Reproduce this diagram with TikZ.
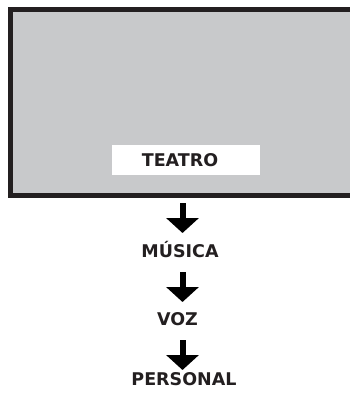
\documentclass[tikz,border=0pt]{standalone}
\usepackage{fontspec}
\setmainfont{DejaVu Sans}
\usetikzlibrary{arrows.meta}
\definecolor{scrgray}{RGB}{200,201,203}
\definecolor{inkdark}{RGB}{35,31,32}
\tikzset{
  lbl/.style={font=\fontsize{17.5}{17.5}\selectfont\bfseries, text=inkdark, inner sep=0pt, anchor=center},
  downarrow/.style={draw=black, line width=6pt, -{Triangle[width=32pt,length=15pt]}}
}
\begin{document}
\begin{tikzpicture}[x=1pt,y=-1pt]
\useasboundingbox (0,0) rectangle (350,393);
\clip (0,0) rectangle (350,393);
\draw[fill=scrgray, draw=inkdark, line width=5pt] (10.5,9.5) rectangle (370,195);
\fill[white] (112,145) rectangle (260,175);
\node[lbl] (teatro) at (180,160) {TEATRO};
\coordinate (a1s) at (182.5,203);
\coordinate (a1e) at (182.5,233);
\draw[downarrow] (a1s) -- (a1e);
\node[lbl] (musica) at (180,249.5) {MÚSICA};
\coordinate (a2s) at (182.5,272);
\coordinate (a2e) at (182.5,302);
\draw[downarrow] (a2s) -- (a2e);
\node[lbl] (voz) at (177.5,319) {VOZ};
\coordinate (a3s) at (182.5,340);
\coordinate (a3e) at (182.5,370);
\draw[downarrow] (a3s) -- (a3e);
\node[lbl] (personal) at (184,379) {PERSONAL};
\end{tikzpicture}
\end{document}
